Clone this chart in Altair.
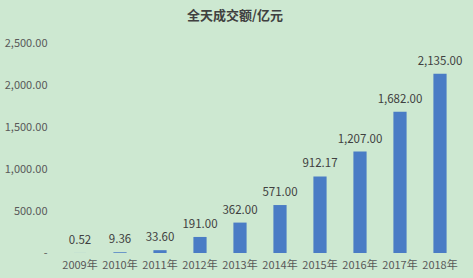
import altair as alt
import pandas as pd

# Annual full-day turnover, in 100 million yuan
years = ["2009年", "2010年", "2011年", "2012年", "2013年",
         "2014年", "2015年", "2016年", "2017年", "2018年"]
turnover = [0.52, 9.36, 33.60, 191.00, 362.00, 571.00, 912.17, 1207.00, 1682.00, 2135.00]
title_text = "全天成交额/亿元"

df = pd.DataFrame({"year": years, "value": turnover})

FONT = "Noto Sans CJK SC"
TEXT = "#595959"
BAR = "#4a7cc5"
BG = "#cde8d1"

base = alt.Chart(df).encode(
    x=alt.X("year:N", sort=years, title=None,
            scale=alt.Scale(paddingInner=0.67, paddingOuter=0.335),
            axis=alt.Axis(labelAngle=0, ticks=False, domain=False,
                          labelPadding=6, labelFontSize=11, labelColor=TEXT,
                          labelFont=FONT, grid=False)),
)

bars = base.mark_bar(color=BAR).encode(
    y=alt.Y("value:Q", title=None,
            scale=alt.Scale(domain=[0, 2500], nice=False),
            axis=alt.Axis(values=[0, 500, 1000, 1500, 2000, 2500],
                          labelExpr="datum.value == 0 ? '-' : format(datum.value, ',.2f')",
                          ticks=False, domain=False, grid=False,
                          labelPadding=13, labelFontSize=11, labelColor=TEXT,
                          labelFont=FONT)),
)

labels = base.mark_text(baseline="bottom", dy=-7, fontSize=11.5, color="#404040",
                        font=FONT).encode(
    y=alt.Y("value:Q"),
    text=alt.Text("value:Q", format=",.2f"),
)

# Chart heading drawn as a text mark above the plot area
heading = alt.Chart(pd.DataFrame({"t": [title_text]})).mark_text(
    fontSize=13, fontWeight="bold", color="#404040", font=FONT,
    align="center", baseline="middle",
).encode(x=alt.value(175), y=alt.value(-27), text="t:N")

chart = (bars + labels + heading).properties(
    width=400,
    height=210,
    autosize=alt.AutoSizeParams(type="none"),
    padding={"left": 60, "right": 13, "top": 43, "bottom": 25},
    background=BG,
).configure_view(stroke=None)

chart.save("out.html", embed_options={"renderer": "svg", "actions": False})
